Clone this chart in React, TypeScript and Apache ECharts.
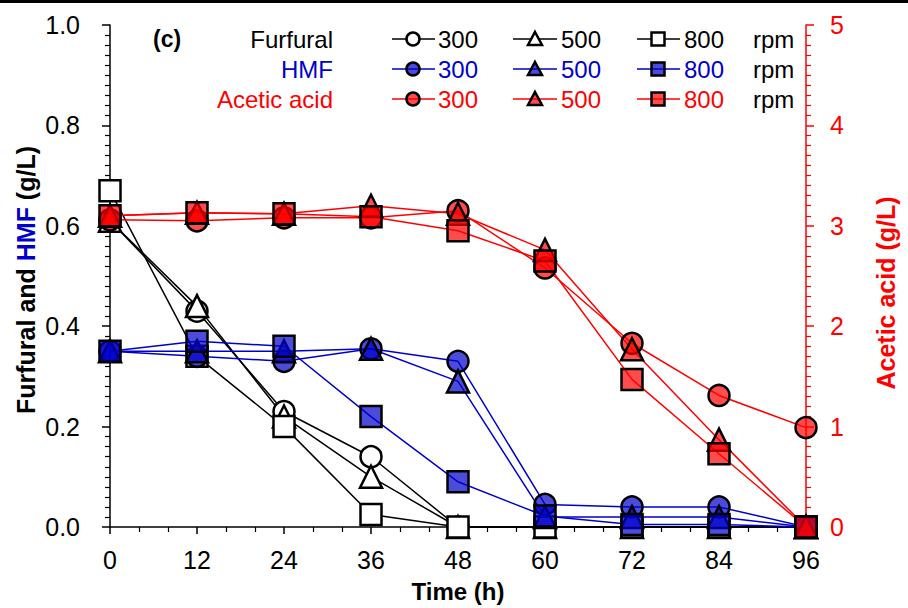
import React, { useEffect, useRef } from "react";
import * as echarts from "echarts";

const TIME = [0, 12, 24, 36, 48, 60, 72, 84, 96];
const X_TICKS = [0, 12, 24, 36, 48, 60, 72, 84, 96];

const FURFURAL_300 = [0.61, 0.43, 0.23, 0.14, 0, 0, 0, 0, 0];
const FURFURAL_500 = [0.61, 0.44, 0.22, 0.1, 0, 0, 0, 0, 0];
const FURFURAL_800 = [0.67, 0.34, 0.2, 0.025, 0, 0, 0, 0, 0];

const HMF_300 = [0.35, 0.34, 0.33, 0.355, 0.33, 0.045, 0.04, 0.04, 0];
const HMF_500 = [0.35, 0.35, 0.35, 0.355, 0.29, 0.02, 0.02, 0.02, 0];
const HMF_800 = [0.35, 0.37, 0.36, 0.22, 0.09, 0.022, 0.005, 0.005, 0];

const ACETIC_300 = [3.06, 3.05, 3.08, 3.08, 3.15, 2.58, 1.83, 1.31, 0.99];
const ACETIC_500 = [3.1, 3.13, 3.12, 3.2, 3.12, 2.76, 1.77, 0.87, 0];
const ACETIC_800 = [3.1, 3.13, 3.12, 3.09, 2.95, 2.65, 1.47, 0.73, 0];

const RPM_LABELS = ["300", "500", "800"];
const ROW_LABELS = ["Furfural", "HMF", "Acetic acid"];

const FONT = "'Liberation Sans', Arial, Helvetica, sans-serif";
const BLACK = "#000000";
const BLUE = "#0000CC";
const RED = "#FF0000";
const BLUE_FILL = "rgba(0,0,204,0.7)";
const RED_FILL = "rgba(255,0,0,0.7)";

function makeSeries(
  name: string,
  values: number[],
  yAxisIndex: number,
  symbol: string,
  lineColor: string,
  fill: string
) {
  return {
    type: "line",
    name,
    yAxisIndex,
    data: TIME.map((t, i) => [t, values[i]]),
    symbol,
    symbolSize: symbol === "triangle" ? 22 : 21,
    showSymbol: true,
    clip: false,
    lineStyle: { color: lineColor, width: 1.5 },
    itemStyle: { color: fill, borderColor: "#000", borderWidth: 2.5, opacity: 1 },
    emphasis: { disabled: true },
  };
}

function legendGraphics() {
  const rows = [39, 69, 99];
  const rowColors = [BLACK, BLUE, RED];
  const fills = ["#ffffff", BLUE_FILL, RED_FILL];
  const cols = [
    { l1: 392, l2: 435, m: 413, t: 438, sym: "circle" },
    { l1: 513, l2: 557, m: 535, t: 561, sym: "triangle" },
    { l1: 637, l2: 680, m: 658, t: 684, sym: "rect" },
  ];
  const els: any[] = [];
  els.push({
    type: "text",
    x: 153,
    y: rows[0],
    style: {
      text: "(c)",
      font: `bold 23px ${FONT}`,
      fill: BLACK,
      align: "left",
      verticalAlign: "middle",
    },
  });
  rows.forEach((y, r) => {
    els.push({
      type: "text",
      x: 333,
      y,
      style: {
        text: ROW_LABELS[r],
        font: `24px ${FONT}`,
        fill: rowColors[r],
        align: "right",
        verticalAlign: "middle",
      },
    });
    cols.forEach((c, k) => {
      els.push({
        type: "line",
        shape: { x1: c.l1, y1: y, x2: c.l2, y2: y },
        style: { stroke: rowColors[r], lineWidth: 1.5 },
      });
      const ms = { fill: fills[r], stroke: "#000", lineWidth: 2.5 };
      if (c.sym === "circle") {
        els.push({ type: "circle", shape: { cx: c.m, cy: y, r: 6.5 }, style: ms });
      } else if (c.sym === "triangle") {
        els.push({
          type: "polygon",
          shape: { points: [[c.m, y - 7], [c.m + 7, y + 6], [c.m - 7, y + 6]] },
          style: ms,
        });
      } else {
        els.push({ type: "rect", shape: { x: c.m - 6.5, y: y - 6.5, width: 13, height: 13 }, style: ms });
      }
      els.push({
        type: "text",
        x: c.t,
        y,
        style: {
          text: RPM_LABELS[k],
          font: `24px ${FONT}`,
          fill: rowColors[r],
          align: "left",
          verticalAlign: "middle",
        },
      });
    });
    els.push({
      type: "text",
      x: 753,
      y,
      style: { text: "rpm", font: `24px ${FONT}`, fill: BLACK, align: "left", verticalAlign: "middle" },
    });
  });
  // top border line
  els.push({ type: "rect", shape: { x: 0, y: 0, width: 908, height: 3 }, style: { fill: "#000" } });
  // left axis title
  els.push({
    type: "text",
    x: 26,
    y: 280,
    rotation: Math.PI / 2,
    style: {
      text: "{a|Furfural and }{b|HMF}{a| (g/L)}",
      align: "center",
      verticalAlign: "middle",
      rich: {
        a: { fontSize: 25, fontWeight: "bold", fontFamily: FONT, fill: BLACK },
        b: { fontSize: 25, fontWeight: "bold", fontFamily: FONT, fill: BLUE },
      },
    },
  });
  // right axis title
  els.push({
    type: "text",
    x: 886,
    y: 293,
    rotation: Math.PI / 2,
    style: {
      text: "Acetic acid (g/L)",
      font: `bold 25px ${FONT}`,
      fill: RED,
      align: "center",
      verticalAlign: "middle",
    },
  });
  return els;
}

export default function App() {
  const ref = useRef<HTMLDivElement>(null);
  useEffect(() => {
    document.body.style.margin = "0";
    if (!ref.current) return;
    const chart = echarts.init(ref.current, null, { renderer: "svg" });
    const axisLabelBase = { fontSize: 25, fontFamily: FONT };
    chart.setOption({
      animation: false,
      grid: { left: 110, right: 102, top: 25, bottom: 77 },
      xAxis: {
        type: "value",
        min: 0,
        max: 96,
        interval: 12,
        name: "Time (h)",
        nameLocation: "middle",
        nameGap: 52,
        nameTextStyle: { fontSize: 24, fontWeight: "bold", fontFamily: FONT, color: BLACK },
        axisLine: { lineStyle: { color: BLACK, width: 1.5 } },
        axisTick: { show: true, inside: false, length: 7, lineStyle: { color: BLACK, width: 1.5 } },
        minorTick: { show: true, splitNumber: 3, length: 5, lineStyle: { color: BLACK, width: 1.2 } },
        axisLabel: {
          ...axisLabelBase,
          color: BLACK,
          margin: 20,
          formatter: (v: number) => (X_TICKS.includes(v) ? String(v) : ""),
        },
        splitLine: { show: false },
      },
      yAxis: [
        {
          type: "value",
          min: 0,
          max: 1,
          interval: 0.2,
          position: "left",
          axisLine: { show: true, lineStyle: { color: BLACK, width: 1.5 } },
          axisTick: { show: true, inside: false, length: 8, lineStyle: { color: BLACK, width: 1.5 } },
          minorTick: { show: true, splitNumber: 10, length: 5, lineStyle: { color: BLACK, width: 1.2 } },
          axisLabel: { ...axisLabelBase, color: BLACK, margin: 30, formatter: (v: number) => v.toFixed(1) },
          splitLine: { show: false },
        },
        {
          type: "value",
          min: 0,
          max: 5,
          interval: 1,
          position: "right",
          axisLine: { show: true, lineStyle: { color: RED, width: 1.5 } },
          axisTick: { show: true, inside: false, length: 8, lineStyle: { color: RED, width: 1.5 } },
          minorTick: { show: true, splitNumber: 10, length: 5, lineStyle: { color: RED, width: 1.2 } },
          axisLabel: { ...axisLabelBase, color: RED, margin: 24, formatter: (v: number) => String(v) },
          splitLine: { show: false },
        },
      ],
      series: [
        makeSeries("Furfural 300", FURFURAL_300, 0, "circle", BLACK, "#ffffff"),
        makeSeries("Furfural 500", FURFURAL_500, 0, "triangle", BLACK, "#ffffff"),
        makeSeries("Furfural 800", FURFURAL_800, 0, "rect", BLACK, "#ffffff"),
        makeSeries("HMF 300", HMF_300, 0, "circle", BLUE, BLUE_FILL),
        makeSeries("HMF 500", HMF_500, 0, "triangle", BLUE, BLUE_FILL),
        makeSeries("HMF 800", HMF_800, 0, "rect", BLUE, BLUE_FILL),
        makeSeries("Acetic acid 300", ACETIC_300, 1, "circle", RED, RED_FILL),
        makeSeries("Acetic acid 500", ACETIC_500, 1, "triangle", RED, RED_FILL),
        makeSeries("Acetic acid 800", ACETIC_800, 1, "rect", RED, RED_FILL),
      ],
      graphic: legendGraphics(),
    });
    return () => chart.dispose();
  }, []);
  return <div ref={ref} style={{ width: 908, height: 608 }} />;
}
